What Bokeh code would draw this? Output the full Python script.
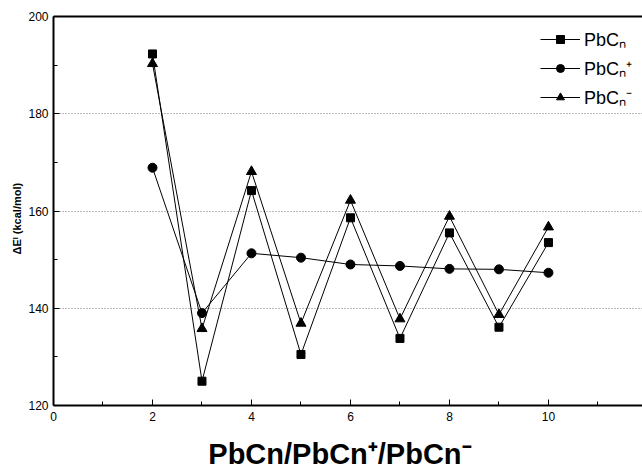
from bokeh.plotting import figure
from bokeh.models import FixedTicker, LinearAxis, Range1d, Legend, LegendItem
from bokeh.embed import file_html
from bokeh.resources import INLINE

n_values = [2, 3, 4, 5, 6, 7, 8, 9, 10]
pbcn = [192.3, 125.0, 164.2, 130.5, 158.6, 133.8, 155.5, 136.1, 153.5]
pbcn_plus = [168.9, 139.0, 151.3, 150.4, 149.0, 148.7, 148.1, 148.0, 147.3]
pbcn_minus = [190.3, 135.8, 168.1, 136.9, 162.2, 137.8, 158.9, 138.7, 156.7]

x_major = [0, 2, 4, 6, 8, 10, 12]
x_minor = [1, 3, 5, 7, 9, 11]
y_major = [120, 140, 160, 180, 200]
y_minor = [130, 150, 170, 190]

FONT = "Liberation Sans"

p = figure(width=642, height=476, output_backend="svg", toolbar_location=None,
           x_range=Range1d(0, 11.9), y_range=Range1d(120, 200),
           min_border_left=53, min_border_right=0, min_border_top=16, min_border_bottom=71)
p.outline_line_color = None
p.background_fill_color = "white"

# lines and markers
r1l = p.line(n_values, pbcn, line_color="black", line_width=1)
r1m = p.scatter(n_values, pbcn, marker="square", size=8, fill_color="black", line_color="black")
r2l = p.line(n_values, pbcn_plus, line_color="black", line_width=1)
r2m = p.scatter(n_values, pbcn_plus, marker="circle", size=9, fill_color="black", line_color="black")
r3l = p.line(n_values, pbcn_minus, line_color="black", line_width=1)
r3m = p.scatter(n_values, pbcn_minus, marker="triangle", size=10, fill_color="black", line_color="black")

# axes
xa = p.xaxis[0]
xa.ticker = FixedTicker(ticks=x_major, minor_ticks=x_minor)
xa.axis_line_width = 2
xa.major_tick_in = 6
xa.major_tick_out = 0
xa.minor_tick_in = 4
xa.minor_tick_out = 0
xa.major_label_standoff = 6
xa.major_label_text_font = FONT
xa.major_label_text_font_size = "12px"
xa.major_label_text_color = "black"
xa.axis_label = "PbCn/PbCn\u207A/PbCn\u207B\u00A0\u00A0"
xa.axis_label_text_font = FONT
xa.axis_label_text_font_style = "bold"
xa.axis_label_text_font_size = "29px"
xa.axis_label_standoff = 14
xa.axis_label_text_color = "black"

ya = p.yaxis[0]
ya.ticker = FixedTicker(ticks=y_major, minor_ticks=y_minor)
ya.axis_line_width = 2
ya.major_tick_in = 6
ya.major_tick_out = 0
ya.minor_tick_in = 4
ya.minor_tick_out = 0
ya.major_label_standoff = 5
ya.major_label_text_font = FONT
ya.major_label_text_font_size = "12px"
ya.major_label_text_color = "black"
ya.axis_label = "\u0394E\u1D35 (kcal/mol)\u00A0\u00A0\u00A0\u00A0\u00A0"
ya.axis_label_text_font = FONT
ya.axis_label_text_font_style = "bold"
ya.axis_label_text_font_size = "11px"
ya.axis_label_standoff = 2
ya.axis_label_text_color = "black"

top = LinearAxis(ticker=FixedTicker(ticks=[]), major_label_text_font_size="0px",
                 major_tick_line_color=None, minor_tick_line_color=None,
                 axis_line_width=2)
p.add_layout(top, "above")

p.xgrid.visible = False
p.ygrid.ticker = FixedTicker(ticks=y_major)
p.ygrid.grid_line_color = "#777777"
p.ygrid.grid_line_dash = "1 2"
p.ygrid.grid_line_width = 1

legend = Legend(items=[
    LegendItem(label="PbC\u2099", renderers=[r1l, r1m]),
    LegendItem(label="PbC\u2099\u207A", renderers=[r2l, r2m]),
    LegendItem(label="PbC\u2099\u207B", renderers=[r3l, r3m]),
], location=(487, 296))
legend.border_line_color = None
legend.background_fill_alpha = 0
legend.glyph_width = 40
legend.glyph_height = 20
legend.label_height = 20
legend.spacing = 5
legend.padding = 0
legend.margin = 0
legend.label_standoff = 4
legend.label_text_font = FONT
legend.label_text_font_size = "18px"
legend.label_text_color = "black"
p.add_layout(legend, "center")

open("out.html", "w").write(file_html(p, INLINE))
